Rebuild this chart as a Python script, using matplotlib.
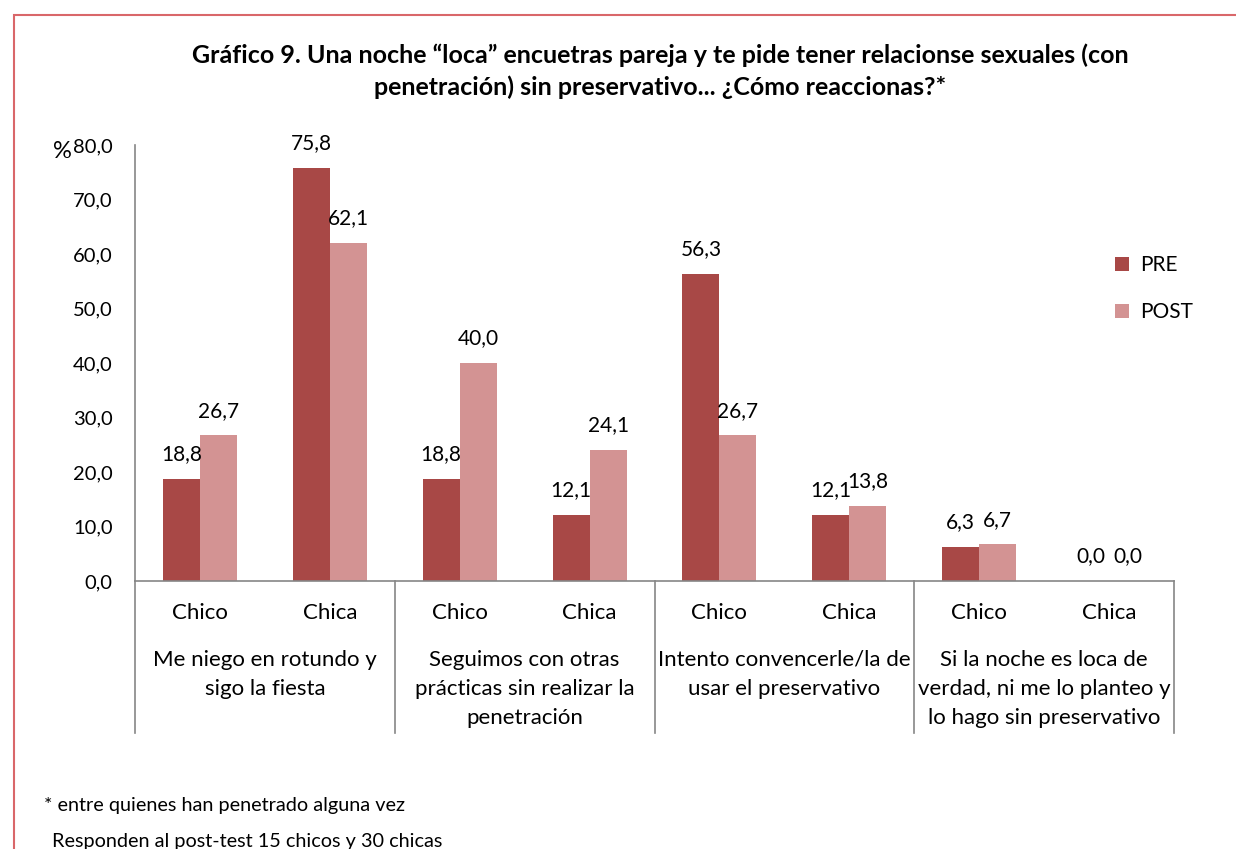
import numpy as np
import matplotlib
matplotlib.use("Agg")
import matplotlib.pyplot as plt
from matplotlib.patches import Rectangle

plt.rcParams['font.family'] = ['Lato', 'DejaVu Sans']

sexes = ["Chico", "Chica"] * 4
groups = ["Me niego en rotundo y\nsigo la fiesta",
          "Seguimos con otras\nprácticas sin realizar la\npenetración",
          "Intento convencerle/la de\nusar el preservativo",
          "Si la noche es loca de\nverdad, ni me lo planteo y\nlo hago sin preservativo"]
pre = [18.8, 75.8, 18.8, 12.1, 56.3, 12.1, 6.3, 0.0]
post = [26.7, 62.1, 40.0, 24.1, 26.7, 13.8, 6.7, 0.0]

c_pre = "#A84846"
c_post = "#D39393"
grey = "#868686"

fig = plt.figure(figsize=(12.36, 8.49), dpi=100)
ax = fig.add_axes([135/1236, 1-581/849, (1174-135)/1236, (581-145)/849])

x = np.arange(len(sexes))
w = 0.285
b1 = ax.bar(x - w/2, pre, w, color=c_pre, label="PRE")
b2 = ax.bar(x + w/2, post, w, color=c_post, label="POST")

for bars, vals in [(b1, pre), (b2, post)]:
    for r, v in zip(bars, vals):
        ax.annotate(f"{v:.1f}".replace(".", ","), (r.get_x() + r.get_width()/2, v),
                    xytext=(0, 10.5), textcoords="offset points",
                    ha="center", va="bottom", fontsize=15)

ax.set_xlim(-0.5, len(sexes) - 0.5)
ax.set_ylim(0, 80)
ax.set_yticks(np.arange(0, 81, 10))
ax.set_yticklabels([f"{v:.1f}".replace(".", ",") for v in np.arange(0, 81, 10)], fontsize=14.5)
ax.tick_params(axis="y", length=0, pad=16)
ax.set_xticks(x)
ax.set_xticklabels(sexes, fontsize=16)
ax.tick_params(axis="x", length=0, pad=16)

for s in ["top", "right"]:
    ax.spines[s].set_visible(False)
ax.spines["left"].set_color(grey)
ax.spines["bottom"].set_color(grey)
ax.spines["left"].set_linewidth(1.2)
ax.spines["bottom"].set_linewidth(1.2)

# group separators and multi-level labels
trans = ax.get_xaxis_transform()
line_bottom = -(733 - 581) / (581 - 145)
for k in range(len(groups) + 1):
    xs = 2*k - 0.5
    ax.plot([xs, xs], [0, line_bottom], transform=trans, color=grey,
            lw=1.2, clip_on=False)
for k, g in enumerate(groups):
    ax.text(2*k + 0.5, -(650 - 581) / (581 - 145), g, transform=trans,
            ha="center", va="top", fontsize=16, linespacing=1.55)

ax.text(-0.061, 0.985, "%", transform=ax.transAxes, ha="right", va="center", fontsize=17)

leg = ax.legend(loc="upper left", bbox_to_anchor=(0.925, 0.79), frameon=False,
                fontsize=15, handlelength=0.7, handleheight=0.7,
                labelspacing=1.3, handletextpad=0.5)

fig.text(660/1236, 1-71/849,
         "Gráfico 9. Una noche “loca” encuetras pareja y te pide tener relacionse sexuales (con\n"
         "penetración) sin preservativo... ¿Cómo reaccionas?*",
         ha="center", va="center", fontsize=18, fontweight="bold", linespacing=1.45)

fig.text(44/1236, 1-805/849, "* entre quienes han penetrado alguna vez",
         ha="left", va="center", fontsize=14.3)
fig.text(52/1236, 1-842/849, "Responden al post-test 15 chicos y 30 chicas",
         ha="left", va="center", fontsize=14.3)

fig.patches.append(Rectangle((14/1236, -0.1), 1.2, 1 - 15/849 + 0.1,
                             transform=fig.transFigure, fill=False,
                             edgecolor="#D9676A", lw=1.5))

fig.savefig("out.png", dpi=100)
